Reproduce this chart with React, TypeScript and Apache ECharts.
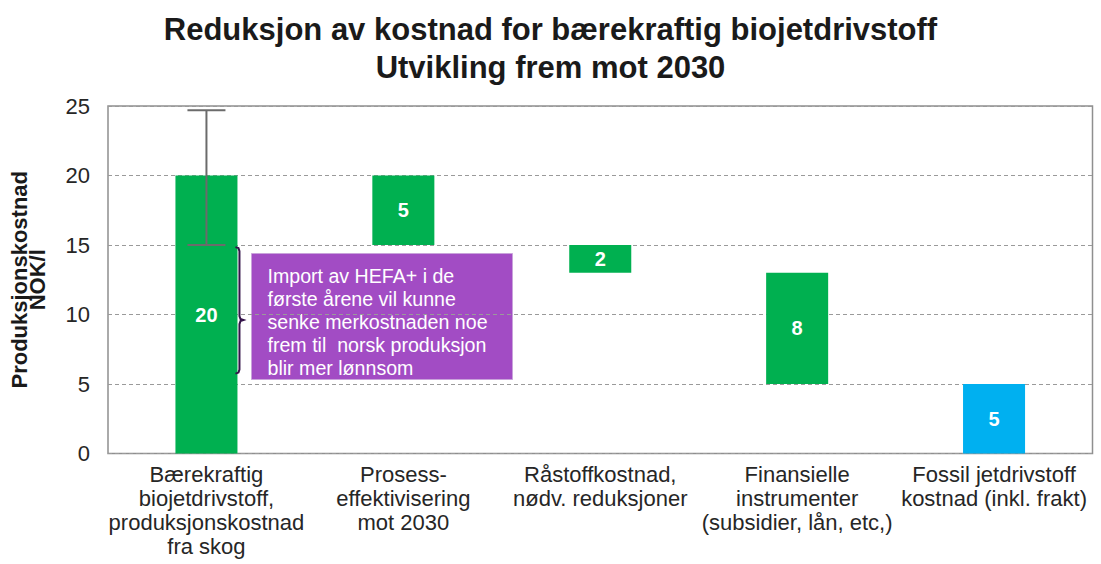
import React, { useEffect, useRef } from "react";
import * as echarts from "echarts";

const categories = [
  "Bærekraftig\nbiojetdrivstoff,\nproduksjonskostnad\nfra skog",
  "Prosess-\neffektivisering\nmot 2030",
  "Råstoffkostnad,\nnødv. reduksjoner",
  "Finansielle\ninstrumenter\n(subsidier, lån, etc,)",
  "Fossil jetdrivstoff\nkostnad (inkl. frakt)",
];
const baseValues = [0, 15, 13, 5, 0];
const deltaValues = [20, 5, 2, 8, 5];
const barColors = ["#00B050", "#00B050", "#00B050", "#00B050", "#00B0F0"];
const yMin = 0;
const yMax = 25;
const yInterval = 5;
// [category index, low, high]
const errorBar = [0, 15, 24.7];
// [category index, top, middle, bottom]
const bracket = [0, 14.85, 9.6, 5.75];
const noteLines = [
  "Import av HEFA+ i de",
  "første årene vil kunne",
  "senke merkostnaden noe",
  "frem til  norsk produksjon",
  "blir mer lønnsom",
];
const titleLines = [
  "Reduksjon av kostnad for bærekraftig biojetdrivstoff",
  "Utvikling frem mot 2030",
];
const yAxisTitle = ["Produksjonskostnad", "NOK/l"];

const FONT = "'Liberation Sans', Arial, sans-serif";

export default function App() {
  const ref = useRef<HTMLDivElement>(null);
  useEffect(() => {
    if (!ref.current) return;
    const chart = echarts.init(ref.current, null, { renderer: "svg" });
    const barWidthRatio = 0.315;
    chart.setOption({
      animation: false,
      textStyle: { fontFamily: FONT },
      title: {
        text: titleLines.join("\n"),
        left: "center",
        top: 5,
        textStyle: {
          fontSize: 31,
          fontWeight: "bold",
          lineHeight: 38,
          color: "#1a1a1a",
          fontFamily: FONT,
        },
      },
      grid: {
        left: 107,
        right: 8.5,
        top: 106,
        bottom: 110.5,
        show: true,
        borderColor: "#8f8f8f",
        borderWidth: 1.5,
        containLabel: false,
      },
      xAxis: {
        type: "category",
        data: categories,
        axisLine: { show: false },
        axisTick: { show: false },
        axisLabel: {
          interval: 0,
          fontSize: 22,
          lineHeight: 24,
          color: "#262626",
          margin: 9,
          fontFamily: FONT,
        },
      },
      yAxis: {
        type: "value",
        min: yMin,
        max: yMax,
        interval: yInterval,
        axisLine: { show: false },
        axisTick: { show: false },
        axisLabel: { fontSize: 22, color: "#262626", margin: 18, fontFamily: FONT },
        splitLine: { lineStyle: { type: [4, 3], color: "#9a9a9a", width: 1 } },
        name: yAxisTitle.join("\n"),
        nameLocation: "middle",
        nameRotate: 90,
        nameGap: 62,
        nameTextStyle: {
          fontSize: 22,
          fontWeight: "bold",
          lineHeight: 18,
          color: "#1a1a1a",
          fontFamily: FONT,
        },
      },
      series: [
        {
          type: "bar",
          stack: "w",
          data: baseValues,
          barWidth: barWidthRatio * 100 + "%",
          itemStyle: { color: "transparent" },
          silent: true,
        },
        {
          type: "bar",
          stack: "w",
          barWidth: barWidthRatio * 100 + "%",
          data: deltaValues.map((v, i) => ({ value: v, itemStyle: { color: barColors[i] } })),
          label: {
            show: true,
            position: "inside",
            color: "#ffffff",
            fontWeight: "bold",
            fontSize: 20,
            fontFamily: FONT,
          },
        },
        {
          type: "custom",
          z: 5,
          data: [errorBar],
          renderItem: (params: any, api: any) => {
            const lo = api.coord([api.value(0), api.value(1)]);
            const hi = api.coord([api.value(0), api.value(2)]);
            const x = lo[0];
            const half = 19;
            const style = { stroke: "#6b6b6b", lineWidth: 2 };
            return {
              type: "group",
              children: [
                { type: "line", shape: { x1: x, y1: lo[1], x2: x, y2: hi[1] }, style },
                { type: "line", shape: { x1: x - half, y1: hi[1], x2: x + half, y2: hi[1] }, style },
                { type: "line", shape: { x1: x - half, y1: lo[1], x2: x + half, y2: lo[1] }, style },
              ],
            };
          },
        },
        {
          type: "custom",
          z: 5,
          data: [bracket],
          renderItem: (params: any, api: any) => {
            const top = api.coord([api.value(0), api.value(1)]);
            const mid = api.coord([api.value(0), api.value(2)]);
            const bot = api.coord([api.value(0), api.value(3)]);
            const band = api.size([1, 0])[0];
            const x = top[0] + (band * barWidthRatio) / 2 + 2;
            const yT = top[1];
            const yM = mid[1];
            const yB = bot[1];
            return {
              type: "polyline",
              shape: {
                points: [
                  [x - 4, yT],
                  [x - 1, yT + 1],
                  [x, yT + 4],
                  [x, yM - 4],
                  [x + 1, yM - 1],
                  [x + 4, yM],
                  [x + 1, yM + 1],
                  [x, yM + 4],
                  [x, yB - 4],
                  [x - 1, yB - 1],
                  [x - 4, yB],
                ],
              },
              style: { stroke: "#35144a", lineWidth: 2, fill: "none" },
            };
          },
        },
      ],
      graphic: [
        {
          type: "group",
          left: 251,
          top: 253,
          z: 10,
          children: [
            {
              type: "rect",
              shape: { x: 0, y: 0, width: 261, height: 126 },
              style: { fill: "#A24CC4", stroke: "#c9a3db", lineWidth: 1 },
            },
            {
              type: "text",
              x: 16,
              y: 10.5,
              style: {
                text: noteLines.join("\n"),
                fill: "#ffffff",
                fontSize: 19.6,
                lineHeight: 23,
                fontFamily: FONT,
                verticalAlign: "top",
                align: "left",
              },
            },
          ],
        },
      ],
    });
    return () => chart.dispose();
  }, []);
  return (
    <div
      ref={ref}
      style={{ position: "absolute", left: 0, top: 0, width: 1101, height: 564, background: "#fff" }}
    />
  );
}
